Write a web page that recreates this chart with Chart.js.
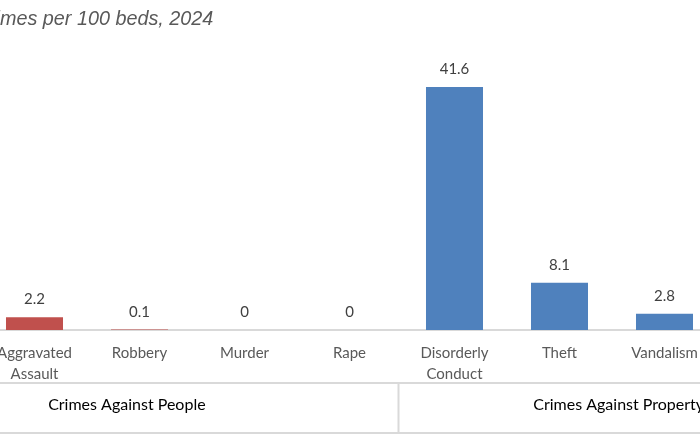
<!DOCTYPE html>
<html>
<head>
<meta charset="utf-8">
<script src="https://cdn.jsdelivr.net/npm/chart.js@4.4.1/dist/chart.umd.min.js"></script>
<style>
  html, body { margin: 0; padding: 0; background: #fff; overflow: hidden; width: 700px; height: 441px; }
  #wrap { position: absolute; left: -18px; top: 0; width: 735px; height: 441px; }
</style>
</head>
<body>
<div id="wrap"><canvas id="c" width="735" height="441"></canvas></div>
<script>
const titleText = "Crimes per 100 beds, 2024";
const categories = [["Aggravated", "Assault"], "Robbery", "Murder", "Rape", ["Disorderly", "Conduct"], "Theft", "Vandalism"];
const values = [2.2, 0.1, 0, 0, 41.6, 8.1, 2.8];
const groupNames = ["Crimes Against People", "Crimes Against Property"];
const groupSizes = [4, 3];
const barColors = ["#C0504D", "#C0504D", "#C0504D", "#C0504D", "#4F81BD", "#4F81BD", "#4F81BD"];

const lineColor = "#D9D9D9";

const overlay = {
  id: "overlay",
  afterDraw(chart) {
    const ctx = chart.ctx;
    const x = chart.scales.x;
    const area = chart.chartArea;
    ctx.save();
    // title (partially cropped on the left like the reference)
    ctx.font = "italic 19.8px 'Liberation Sans', Arial, sans-serif";
    ctx.fillStyle = "#595959";
    ctx.textBaseline = "middle";
    ctx.textAlign = "left";
    const crop = ctx.measureText("Cri").width;
    ctx.fillText(titleText, 18 - crop, 19);

    // data labels
    const meta = chart.getDatasetMeta(0);
    ctx.font = "15px Lato, sans-serif";
    ctx.fillStyle = "#404040";
    ctx.textAlign = "center";
    ctx.textBaseline = "bottom";
    meta.data.forEach((bar, i) => {
      ctx.fillText(String(values[i]), bar.x, bar.y - 10);
    });

    // multi-level group lines
    const half = (x.getPixelForValue(1) - x.getPixelForValue(0)) / 2;
    const yMid = 383, yBot = 433;
    ctx.strokeStyle = lineColor;
    ctx.lineWidth = 2;
    ctx.beginPath();
    ctx.moveTo(area.left, yMid); ctx.lineTo(area.right, yMid);
    ctx.moveTo(area.left, yBot); ctx.lineTo(area.right, yBot);
    let idx = 0;
    const bounds = [idx];
    groupSizes.forEach(s => { idx += s; bounds.push(idx); });
    bounds.forEach(b => {
      const px = x.getPixelForValue(b) - half - 3.5;
      ctx.moveTo(px, yMid); ctx.lineTo(px, yBot);
    });
    ctx.stroke();

    // group labels
    ctx.font = "16px Lato, sans-serif";
    ctx.fillStyle = "#000000";
    ctx.textAlign = "left";
    ctx.textBaseline = "middle";
    const labelStarts = [0.13, 4.75];
    groupNames.forEach((g, i) => {
      ctx.fillText(g, x.getPixelForValue(labelStarts[i]), 405);
    });
    ctx.restore();
  }
};

new Chart(document.getElementById("c"), {
  type: "bar",
  data: {
    labels: categories,
    datasets: [{
      data: values,
      backgroundColor: barColors,
      borderWidth: 0,
      barPercentage: 0.543,
      categoryPercentage: 1.0
    }]
  },
  options: {
    responsive: false,
    animation: false,
    events: [],
    layout: { padding: { top: 0, left: 0, right: 0, bottom: 0 } },
    plugins: { legend: { display: false }, tooltip: { enabled: false }, title: { display: false } },
    scales: {
      x: {
        z: 1,
        grid: { display: false, drawTicks: false },
        border: { display: true, color: lineColor, width: 2 },
        ticks: { color: "#595959", font: { family: "Lato, sans-serif", size: 15, lineHeight: 1.45 }, padding: 12, maxRotation: 0, autoSkip: false },
        afterFit(scale) { scale.height = 111; }
      },
      y: {
        display: false,
        min: 0,
        max: 50,
        afterFit(scale) { scale.width = 0; }
      }
    }
  },
  plugins: [overlay, {
    id: "topPad",
    beforeLayout(chart) { chart.options.layout.padding.top = 38; }
  }]
});
</script>
</body>
</html>
